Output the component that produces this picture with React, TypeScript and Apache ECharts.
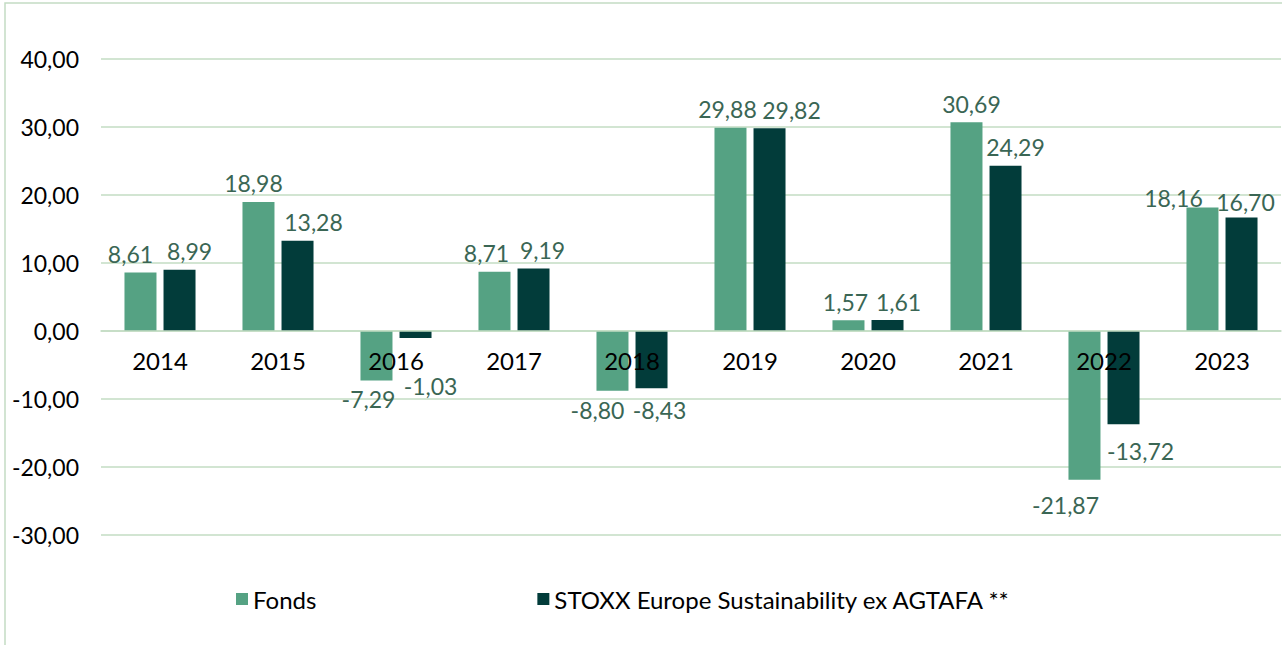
import React, { useEffect, useRef } from "react";
import * as echarts from "echarts";

const years = ["2014", "2015", "2016", "2017", "2018", "2019", "2020", "2021", "2022", "2023"];
const fonds = [8.61, 18.98, -7.29, 8.71, -8.8, 29.88, 1.57, 30.69, -21.87, 18.16];
const stoxx = [8.99, 13.28, -1.03, 9.19, -8.43, 29.82, 1.61, 24.29, -13.72, 16.7];
const seriesNames = ["Fonds", "STOXX Europe Sustainability ex AGTAFA **"];
const yTicks = { min: -30, max: 40, interval: 10 };

// label nudges (style only, in px) mimicking manually placed labels
const fondsNudge = [[-10, 0], [-5, 0], [-8, 0], [-8, 0], [-15, 1], [-3, 0], [-3, 0], [5, 0], [-19, 7], [-29, 9]];
const stoxxNudge = [[10, 0], [16, 0], [15, 29], [9, 0], [8, 3], [22, 0], [11, 0], [10, 0], [17, 8], [4, 3]];

const FONT = "Lato, 'Noto Sans', sans-serif";
const GRID = "#c3dcc3";
const LABEL = "#3a6654";

const fmt = (v: number) => v.toFixed(2).replace(".", ",");

function makeData(values: number[], nudges: number[][]) {
  return values.map((v, i) => ({
    value: v,
    label: {
      position: v >= 0 ? "top" : "bottom",
      offset: nudges[i],
    },
  }));
}

export default function App() {
  const ref = useRef<HTMLDivElement>(null);
  useEffect(() => {
    if (!ref.current) return;
    const chart = echarts.init(ref.current, undefined, { renderer: "svg" });
    const labelCommon = {
      show: true,
      distance: 7,
      color: LABEL,
      fontFamily: FONT,
      fontSize: 23,
      formatter: (p: any) => fmt(p.value),
    };
    chart.setOption({
      animation: false,
      backgroundColor: "#ffffff",
      textStyle: { fontFamily: FONT },
      graphic: [
        {
          type: "rect",
          shape: { x: 5, y: 3, width: 1300, height: 700 },
          style: { fill: "none", stroke: GRID, lineWidth: 1.5 },
          silent: true,
        },
      ],
      grid: { left: 101, right: 1, top: 59, bottom: 110, containLabel: false },
      legend: {
        left: 236,
        top: 587,
        padding: 0,
        icon: "rect",
        itemWidth: 12,
        itemHeight: 12,
        itemGap: 221,
        textStyle: { fontFamily: FONT, fontSize: 24, color: "#000000" },
        data: seriesNames,
      },
      xAxis: {
        type: "category",
        data: years,
        position: "bottom",
        offset: -204,
        axisLine: { onZero: false, lineStyle: { color: GRID, width: 1.5 } },
        axisTick: { show: false },
        axisLabel: { color: "#000000", fontFamily: FONT, fontSize: 24, margin: 17 },
        z: 3,
      },
      yAxis: {
        type: "value",
        min: yTicks.min,
        max: yTicks.max,
        interval: yTicks.interval,
        axisLine: { show: false },
        axisTick: { show: false },
        splitLine: { lineStyle: { color: GRID, width: 1.5 } },
        axisLabel: {
          color: "#000000",
          fontFamily: FONT,
          fontSize: 23,
          margin: 22,
          formatter: (v: number) => fmt(v),
        },
      },
      series: [
        {
          name: seriesNames[0],
          type: "bar",
          data: makeData(fonds, fondsNudge),
          barWidth: 32,
          barGap: "22%",
          itemStyle: { color: "#55a283" },
          label: labelCommon,
          z: 2,
        },
        {
          name: seriesNames[1],
          type: "bar",
          data: makeData(stoxx, stoxxNudge),
          barWidth: 32,
          barGap: "22%",
          itemStyle: { color: "#023c3a" },
          label: labelCommon,
          z: 2,
        },
      ],
    });
    return () => chart.dispose();
  }, []);
  return (
    <div
      ref={ref}
      style={{ position: "absolute", left: 0, top: 0, width: 1282, height: 645 }}
    />
  );
}
